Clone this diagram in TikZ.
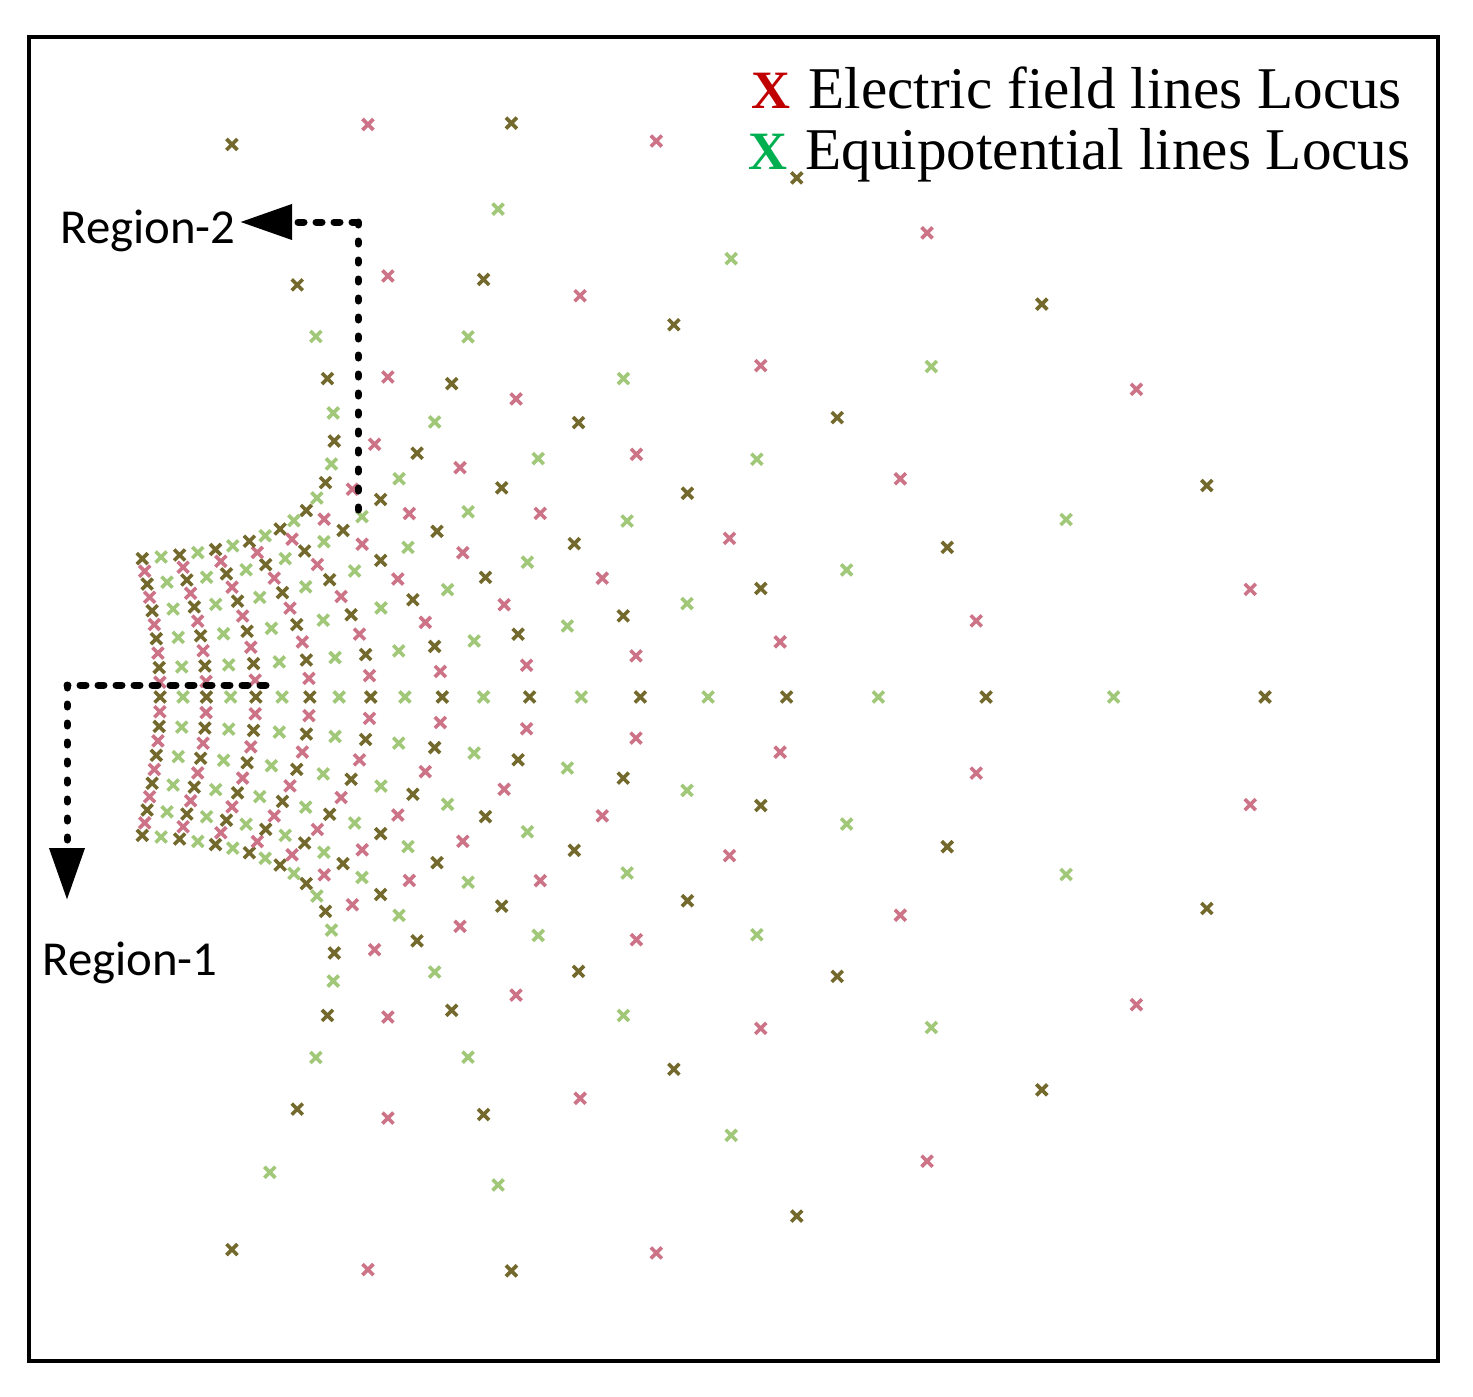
\documentclass[tikz,border=0pt]{standalone}
\usepackage{fontspec}
\setmainfont{Liberation Serif}
\newfontfamily\calfont{Carlito}
\usetikzlibrary{arrows.meta}
\definecolor{fieldpink}{RGB}{205,115,135}
\definecolor{potgreen}{RGB}{160,200,120}
\definecolor{bothdark}{RGB}{115,105,45}
\definecolor{legendred}{RGB}{192,0,0}
\definecolor{legendgreen}{RGB}{0,176,80}
\newcommand{\locusmark}[3]{\draw[locus,#1] (#2-5.5,#3-5.5) -- (#2+5.5,#3+5.5) (#2-5.5,#3+5.5) -- (#2+5.5,#3-5.5);}

\begin{document}
\begin{tikzpicture}[x=0.5pt, y=-0.5pt,
  locus/.style={line width=1.8pt},
  legendtext/.style={inner sep=0pt, font=\fontsize{29.6}{35}\selectfont},
  legendx/.style={inner sep=0pt, font=\fontsize{27}{32}\selectfont\bfseries},
  regionlabel/.style={inner sep=0pt, font=\calfont\fontsize{24.4}{29}\selectfont},
  dashline/.style={line width=3.5pt, line cap=round, dash pattern=on 3pt off 6pt},
  dotline/.style={line width=3.5pt, line cap=round, dash pattern=on 1.5pt off 8pt},
  bigtip/.style={-{Triangle[length=26pt,width=17pt]}}]
\useasboundingbox (0,0) rectangle (1473,1397);
\draw[line width=2pt] (29,37) rectangle (1438,1361);
% k: field line index, j: equipotential index
\foreach \k in {0,0.5,...,10}{
  \foreach \j in {-5,-4.5,...,5}{
    \pgfmathtruncatemacro\kh{mod(round(2*\k),2)}
    \pgfmathtruncatemacro\jh{mod(round(2*\j+10),2)}
    \pgfmathtruncatemacro\kind{2*\kh+\jh}
    \pgfmathsetmacro\ee{717*exp((\k-10)*0.405465)}
    \pgfmathsetmacro\px{548+98.7*(\k-10)*0.405465+\ee*cos(\j*23.232)}
    \pgfmathsetmacro\py{697-0.655*(98.7*\j*0.405465+\ee*sin(\j*23.232))}
    \ifcase\kind
      \locusmark{bothdark}{\px}{\py}
    \or
      \locusmark{fieldpink}{\px}{\py}
    \or
      \locusmark{potgreen}{\px}{\py}
    \else
    \fi
  }
}
\node[legendx, text=legendred, anchor=base] (emark) at (771,108) {X};
\node[legendtext, anchor=base west] (elabel) at (808,108) {Electric field lines Locus};
\node[legendx, text=legendgreen, anchor=base] (qmark) at (768,169) {X};
\node[legendtext, anchor=base west] (qlabel) at (805,169) {Equipotential lines Locus};
\node[regionlabel, anchor=base west] (reg2) at (60,243) {Region-2};
\node[regionlabel, anchor=base west] (reg1) at (42,975) {Region-1};
\coordinate (r2foot) at (358,510);
\coordinate (r2bend) at (358,222);
\coordinate (r2tip) at (240,222);
\coordinate (r1start) at (266,685);
\coordinate (r1bend) at (67,685);
\coordinate (r1tip) at (67,900);
\draw[dotline] (r2foot) -- (r2bend);
\draw[dashline, bigtip] (r2bend) -- (r2tip);
\draw[dashline] (r1start) -- (r1bend);
\draw[dotline, bigtip] (r1bend) -- (r1tip);
\end{tikzpicture}
\end{document}
